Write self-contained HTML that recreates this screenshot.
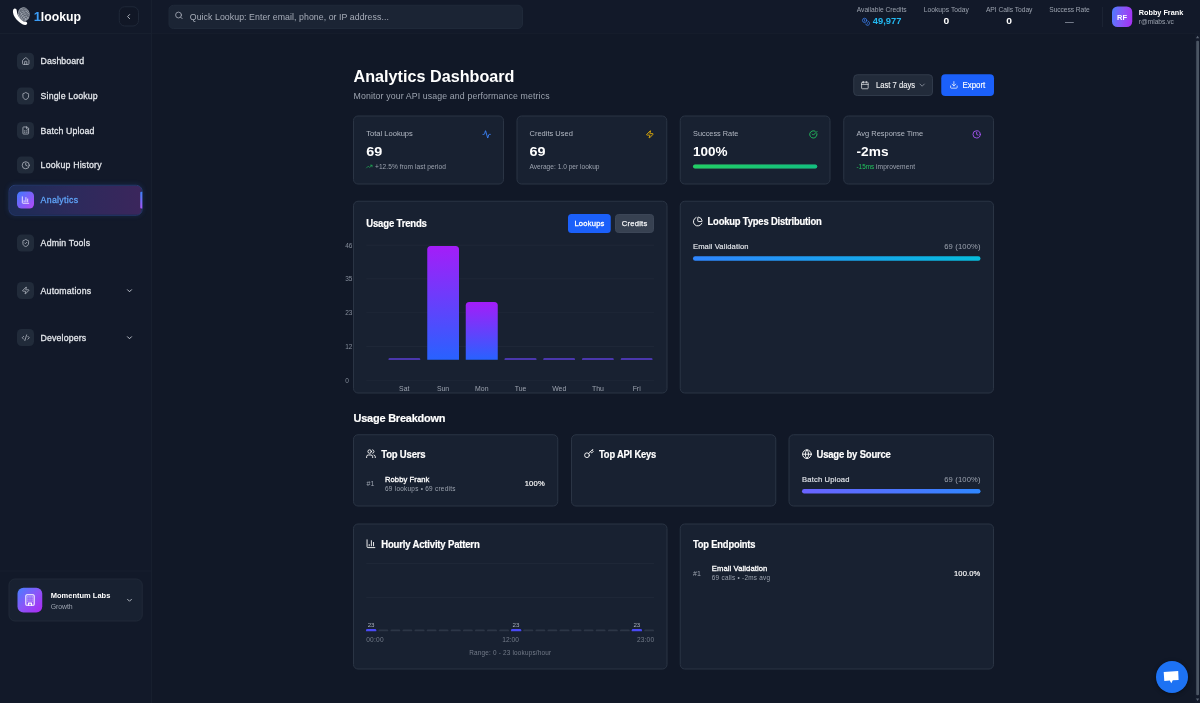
<!DOCTYPE html><html lang="en"><head><meta charset="utf-8"><title>1lookup - Analytics Dashboard</title><style>
*{box-sizing:border-box;margin:0;padding:0}
html,body{width:1200px;height:703px;overflow:hidden;background:#111827;font-family:"Liberation Sans",sans-serif;}
.abs,.t,.ic,aside,header,main,section,nav,div,a,button,h1,h2,h3,p{position:absolute}
.t{white-space:nowrap;line-height:1;transform-origin:0 50%;font-weight:400;display:block}
.ic{display:block;overflow:visible}
button{border:0;background:none;font-family:inherit}
a{text-decoration:none}
.card{background:#182131;border:4px solid #2a3444;border-radius:20px}
.ib{background:#212b3a;border-radius:18px}
</style></head><body><div id="app" style="left:0;top:0;width:4800px;height:2812px;overflow:hidden;transform:scale(.25);transform-origin:0 0">
<main class="" style="left:608px;top:136px;width:4192px;height:2676px;background:#111827;">
<h1 class="t" style="left:806px;top:139px;font-size:63.2px;color:#ffffff;font-weight:700;transform:scaleX(1.0244);">Analytics Dashboard</h1>
<p class="t" style="left:806px;top:230px;font-size:35px;color:#9ca3af;letter-spacing:0.52px;">Monitor your API usage and performance metrics</p>
<button class="" style="left:2805.2px;top:161.2px;width:318.8px;height:86.4px;border-radius:16px;border:4px solid #303a4a;background:#222b3a;">
<svg class="ic" style="left:25.2px;top:22px;width:35px;height:35px;" viewBox="0 0 24 24" fill="none" stroke="#e5e7eb" stroke-width="2" stroke-linecap="round" stroke-linejoin="round"><path d="M8 2v4"/><path d="M16 2v4"/><rect width="18" height="18" x="3" y="4" rx="2"/><path d="M3 10h18"/></svg>
<span class="t" style="left:86.4px;top:23.8px;font-size:32.8px;color:#f3f4f6;transform:scaleX(0.9323);-webkit-text-stroke:0.4px #f3f4f6;">Last 7 days</span>
<svg class="ic" style="left:254px;top:21.6px;width:35px;height:35px;" viewBox="0 0 24 24" fill="none" stroke="#9ca3af" stroke-width="2" stroke-linecap="round" stroke-linejoin="round"><path d="m6 9 6 6 6-6"/></svg>
</button>
<button class="" style="left:3157.2px;top:161.2px;width:210.8px;height:86.4px;border-radius:16px;background:#1b60fa;">
<svg class="ic" style="left:33.2px;top:25.2px;width:35px;height:35px;" viewBox="0 0 24 24" fill="none" stroke="#ffffff" stroke-width="2" stroke-linecap="round" stroke-linejoin="round"><path d="M21 15v4a2 2 0 0 1-2 2H5a2 2 0 0 1-2-2v-4"/><polyline points="7 10 12 15 17 10"/><line x1="12" x2="12" y1="15" y2="3"/></svg>
<span class="t" style="left:85.2px;top:27.8px;font-size:32.8px;color:#ffffff;transform:scaleX(0.9620);-webkit-text-stroke:0.6px #fff;">Export</span>
</button>
<section class="card" style="left:804.4px;top:326.4px;width:603.2px;height:275.2px;">
<span class="t" style="left:48.8px;top:51.6px;font-size:31.2px;color:#b3b9c4;transform:scaleX(0.9681);">Total Lookups</span>
<span class="t" style="left:48.8px;top:113.6px;font-size:52px;color:#ffffff;font-weight:700;transform:scaleX(1.1065);">69</span>
<svg class="ic" style="left:512.4px;top:54px;width:35px;height:35px;" viewBox="0 0 24 24" fill="none" stroke="#3d86ff" stroke-width="2.45" stroke-linecap="round" stroke-linejoin="round"><path d="M22 12h-2.480a2 2 0 0 0-1.930 1.460l-2.350 8.360a.25.25 0 0 1-.480 0L9.240 2.180a.25.25 0 0 0-.480 0l-2.350 8.360A2 2 0 0 1 4.490 12H2"/></svg>
<svg class="ic" style="left:47.6px;top:186.8px;width:26.4px;height:26.4px;" viewBox="0 0 24 24" fill="none" stroke="#22c55e" stroke-width="2.2" stroke-linecap="round" stroke-linejoin="round"><polyline points="22 7 13.500 15.500 8.500 10.500 2 17"/><polyline points="16 7 22 7 22 13"/></svg>
<span class="t" style="left:83.6px;top:187.6px;font-size:26.4px;color:#9ca3af;letter-spacing:0.2px;">+12.5% from last period</span>
</section>
<section class="card" style="left:1457.6px;top:326.4px;width:603.2px;height:275.2px;">
<span class="t" style="left:48.8px;top:51.6px;font-size:31.2px;color:#b3b9c4;transform:scaleX(0.9627);">Credits Used</span>
<span class="t" style="left:48.8px;top:113.6px;font-size:52px;color:#ffffff;font-weight:700;transform:scaleX(1.1065);">69</span>
<svg class="ic" style="left:512.4px;top:54px;width:35px;height:35px;" viewBox="0 0 24 24" fill="none" stroke="#eab308" stroke-width="2.45" stroke-linecap="round" stroke-linejoin="round"><path d="M4 14a1 1 0 0 1-.780-1.630l9.900-10.200a.5.5 0 0 1 .860.460l-1.920 6.020A1 1 0 0 0 13 10h7a1 1 0 0 1 .780 1.630l-9.900 10.200a.5.5 0 0 1-.860-.460l1.920-6.020A1 1 0 0 0 11 14z"/></svg>
<span class="t" style="left:48.4px;top:187.6px;font-size:26.4px;color:#9ca3af;letter-spacing:0.01px;">Average: 1.0 per lookup</span>
</section>
<section class="card" style="left:2111.2px;top:326.4px;width:603.2px;height:275.2px;">
<span class="t" style="left:48.8px;top:51.6px;font-size:31.2px;color:#b3b9c4;transform:scaleX(0.9414);">Success Rate</span>
<span class="t" style="left:48.8px;top:113.6px;font-size:52px;color:#ffffff;font-weight:700;transform:scaleX(1.0376);">100%</span>
<svg class="ic" style="left:512.4px;top:54px;width:35px;height:35px;" viewBox="0 0 24 24" fill="none" stroke="#22c55e" stroke-width="2.45" stroke-linecap="round" stroke-linejoin="round"><path d="M21.801 10A10 10 0 1 1 17 3.335"/><path d="m9 11 3 3L22 4"/></svg>
<div class="" style="left:48.8px;top:192px;width:496.8px;height:15.2px;border-radius:8px;background:#374151;"></div>
<div class="" style="left:48.8px;top:192px;width:496.8px;height:15.2px;border-radius:8px;background:linear-gradient(90deg,#21cf65,#12bf7f);"></div>
</section>
<section class="card" style="left:2764.8px;top:326.4px;width:603.2px;height:275.2px;">
<span class="t" style="left:48.8px;top:51.6px;font-size:31.2px;color:#b3b9c4;transform:scaleX(0.9561);">Avg Response Time</span>
<span class="t" style="left:48.8px;top:113.6px;font-size:52px;color:#ffffff;font-weight:700;transform:scaleX(1.0544);">-2ms</span>
<svg class="ic" style="left:512.4px;top:54px;width:35px;height:35px;" viewBox="0 0 24 24" fill="none" stroke="#a855f7" stroke-width="2.45" stroke-linecap="round" stroke-linejoin="round"><circle cx="12" cy="12" r="10"/><polyline points="12 6 12 12 16 14"/></svg>
<span class="t" style="left:48.8px;top:187.6px;font-size:26.4px;color:#22c55e;transform:scaleX(0.9598);">-15ms</span>
<span class="t" style="left:127.2px;top:187.6px;font-size:26.4px;color:#9ca3af;letter-spacing:0.34px;">improvement</span>
</section>
<section class="card" style="left:804px;top:667.2px;width:1257.6px;height:771.2px;">
<h2 class="t" style="left:48.8px;top:65.8px;font-size:41.6px;color:#ffffff;font-weight:700;letter-spacing:-0.8px;transform:scaleX(0.9196);-webkit-text-stroke:0.8px #fff;">Usage Trends</h2>
<button class="" style="left:856px;top:48.8px;width:171.2px;height:75.6px;border-radius:14px;background:#1b60fa;">
<span class="t" style="left:25.6px;top:22px;font-size:30.4px;color:#ffffff;letter-spacing:0.84px;-webkit-text-stroke:1.2px #fff;">Lookups</span>
</button>
<button class="" style="left:1044px;top:48.8px;width:156px;height:75.6px;border-radius:14px;background:#374151;border:4px solid #3c4657;">
<span class="t" style="left:23px;top:18px;font-size:30.4px;color:#f3f4f6;letter-spacing:0.95px;-webkit-text-stroke:1px #f3f4f6;">Credits</span>
</button>
<div class="" style="left:48.8px;top:172px;width:1151.2px;height:2.8px;background:#202a3a;"></div>
<span class="t" style="left:-35.2px;top:162.8px;font-size:26px;color:#858d9b;">46</span>
<div class="" style="left:48.8px;top:307.2px;width:1151.2px;height:2.8px;background:#202a3a;"></div>
<span class="t" style="left:-35.2px;top:294.8px;font-size:26px;color:#858d9b;">35</span>
<div class="" style="left:48.8px;top:442.4px;width:1151.2px;height:2.8px;background:#202a3a;"></div>
<span class="t" style="left:-35.2px;top:430.8px;font-size:26px;color:#858d9b;">23</span>
<div class="" style="left:48.8px;top:577.6px;width:1151.2px;height:2.8px;background:#202a3a;"></div>
<span class="t" style="left:-35.2px;top:566.8px;font-size:26px;color:#858d9b;">12</span>
<div class="" style="left:48.8px;top:712.4px;width:1151.2px;height:2.8px;background:#202a3a;"></div>
<span class="t" style="left:-35.2px;top:702.8px;font-size:26px;color:#858d9b;">0</span>
<div class="" style="left:137.6px;top:626px;width:127.2px;height:6px;border-radius:4px 4px 0 0;background:#5b3fd6;"></div>
<span class="t" style="left:180.48px;top:733.8px;font-size:27.6px;color:#9ca3af;">Sat</span>
<div class="" style="left:292.52px;top:176.4px;width:127.2px;height:455.2px;border-radius:14px 14px 0 0;background:linear-gradient(180deg,#a41df8 0%,#2862ff 100%);"></div>
<span class="t" style="left:331.56px;top:733.8px;font-size:27.6px;color:#9ca3af;">Sun</span>
<div class="" style="left:447.44px;top:401.2px;width:127.2px;height:230.4px;border-radius:14px 14px 0 0;background:linear-gradient(180deg,#a41df8 0%,#2862ff 100%);"></div>
<span class="t" style="left:484.2px;top:733.8px;font-size:27.6px;color:#9ca3af;">Mon</span>
<div class="" style="left:602.36px;top:626px;width:127.2px;height:6px;border-radius:4px 4px 0 0;background:#5b3fd6;"></div>
<span class="t" style="left:642.68px;top:733.8px;font-size:27.6px;color:#9ca3af;">Tue</span>
<div class="" style="left:757.28px;top:626px;width:127.2px;height:6px;border-radius:4px 4px 0 0;background:#5b3fd6;"></div>
<span class="t" style="left:792.76px;top:733.8px;font-size:27.6px;color:#9ca3af;">Wed</span>
<div class="" style="left:912.2px;top:626px;width:127.2px;height:6px;border-radius:4px 4px 0 0;background:#5b3fd6;"></div>
<span class="t" style="left:952px;top:733.8px;font-size:27.6px;color:#9ca3af;">Thu</span>
<div class="" style="left:1067.12px;top:626px;width:127.2px;height:6px;border-radius:4px 4px 0 0;background:#5b3fd6;"></div>
<span class="t" style="left:1114.64px;top:733.8px;font-size:27.6px;color:#9ca3af;">Fri</span>
</section>
<section class="card" style="left:2111.2px;top:667.2px;width:1256.8px;height:771.2px;">
<svg class="ic" style="left:47.2px;top:57.6px;width:42.4px;height:42.4px;" viewBox="0 0 24 24" fill="none" stroke="#ffffff" stroke-width="2.1" stroke-linecap="round" stroke-linejoin="round"><path d="M21 12c.552 0 1.005-.449.950-.998a10 10 0 0 0-8.953-8.951c-.550-.055-.998.398-.998.950v8a1 1 0 0 0 1 1z"/><path d="M21.210 15.890A10 10 0 1 1 8 2.830"/></svg>
<h2 class="t" style="left:107.2px;top:57.8px;font-size:41.6px;color:#ffffff;font-weight:700;letter-spacing:-0.8px;transform:scaleX(0.9060);-webkit-text-stroke:0.8px #fff;">Lookup Types Distribution</h2>
<span class="t" style="left:48.8px;top:162.8px;font-size:30.4px;color:#e2e5ea;letter-spacing:0.42px;-webkit-text-stroke:0.6px #e2e5ea;">Email Validation</span>
<span class="t" style="left:1053.6px;top:162.8px;font-size:30.4px;color:#9ca3af;letter-spacing:0.62px;">69 (100%)</span>
<div class="" style="left:48.8px;top:217.6px;width:1150.4px;height:18px;border-radius:8.8px;background:linear-gradient(90deg,#2f86ff,#06bcdc);"></div>
</section>
<h2 class="t" style="left:806px;top:1513px;font-size:46.4px;color:#ffffff;font-weight:700;letter-spacing:-0.8px;transform:scaleX(0.9410);-webkit-text-stroke:0.8px #fff;">Usage Breakdown</h2>
<section class="card" style="left:804px;top:1600.8px;width:820.8px;height:289.6px;">
<svg class="ic" style="left:47.2px;top:53.6px;width:41.6px;height:41.6px;" viewBox="0 0 24 24" fill="none" stroke="#ffffff" stroke-width="2.1" stroke-linecap="round" stroke-linejoin="round"><path d="M16 21v-2a4 4 0 0 0-4-4H6a4 4 0 0 0-4 4v2"/><circle cx="9" cy="7" r="4"/><path d="M22 21v-2a4 4 0 0 0-3-3.870"/><path d="M16 3.130a4 4 0 0 1 0 7.750"/></svg>
<h3 class="t" style="left:108.8px;top:56.2px;font-size:41.6px;color:#ffffff;font-weight:700;letter-spacing:-0.8px;transform:scaleX(0.9137);-webkit-text-stroke:0.8px #fff;">Top Users</h3>
<span class="t" style="left:50px;top:178.2px;font-size:30px;color:#9ca3af;transform:scaleX(0.9350);">#1</span>
<span class="t" style="left:124px;top:161.2px;font-size:30.4px;color:#ffffff;letter-spacing:0.32px;-webkit-text-stroke:1.2px #fff;">Robby Frank</span>
<span class="t" style="left:124px;top:202.2px;font-size:25.6px;color:#9ca3af;letter-spacing:1.09px;">69 lookups • 69 credits</span>
<span class="t" style="left:682.8px;top:177.2px;font-size:30.4px;color:#ffffff;letter-spacing:0.75px;-webkit-text-stroke:0.6px #fff;">100%</span>
</section>
<section class="card" style="left:1676px;top:1600.8px;width:820.8px;height:289.6px;">
<svg class="ic" style="left:47.2px;top:53.6px;width:41.6px;height:41.6px;" viewBox="0 0 24 24" fill="none" stroke="#ffffff" stroke-width="2.1" stroke-linecap="round" stroke-linejoin="round"><path d="m15.500 7.500 2.300 2.300a1 1 0 0 0 1.400 0l2.100-2.100a1 1 0 0 0 0-1.400L19 4"/><path d="m21 2-9.600 9.600"/><circle cx="7.500" cy="15.500" r="5.500"/></svg>
<h3 class="t" style="left:108px;top:56.2px;font-size:41.6px;color:#ffffff;font-weight:700;letter-spacing:-0.8px;transform:scaleX(0.8998);-webkit-text-stroke:0.8px #fff;">Top API Keys</h3>
</section>
<section class="card" style="left:2546px;top:1600.8px;width:822px;height:289.6px;">
<svg class="ic" style="left:49.2px;top:55.2px;width:41.6px;height:41.6px;" viewBox="0 0 24 24" fill="none" stroke="#ffffff" stroke-width="2.1" stroke-linecap="round" stroke-linejoin="round"><circle cx="12" cy="12" r="10"/><path d="M12 2a14.500 14.500 0 0 0 0 20 14.500 14.500 0 0 0 0-20"/><path d="M2 12h20"/></svg>
<h3 class="t" style="left:108.4px;top:56.2px;font-size:41.6px;color:#ffffff;font-weight:700;letter-spacing:-0.8px;transform:scaleX(0.9119);-webkit-text-stroke:0.8px #fff;">Usage by Source</h3>
<span class="t" style="left:50px;top:161.2px;font-size:30.4px;color:#e2e5ea;letter-spacing:0.68px;-webkit-text-stroke:0.6px #e2e5ea;">Batch Upload</span>
<span class="t" style="left:618.8px;top:161.2px;font-size:30.4px;color:#9ca3af;letter-spacing:0.62px;">69 (100%)</span>
<div class="" style="left:50px;top:215.2px;width:714.4px;height:18px;border-radius:8.8px;background:linear-gradient(90deg,#6a63ff,#2f87ff);"></div>
</section>
<section class="card" style="left:804px;top:1957.6px;width:1257.6px;height:584.8px;">
<svg class="ic" style="left:47.2px;top:56px;width:41.6px;height:41.6px;" viewBox="0 0 24 24" fill="none" stroke="#ffffff" stroke-width="2.1" stroke-linecap="round" stroke-linejoin="round"><path d="M3 3v16a2 2 0 0 0 2 2h16"/><path d="M18 17V9"/><path d="M13 17V5"/><path d="M8 17v-3"/></svg>
<h3 class="t" style="left:108.8px;top:59.4px;font-size:41.6px;color:#ffffff;font-weight:700;letter-spacing:-0.8px;transform:scaleX(0.9177);-webkit-text-stroke:0.8px #fff;">Hourly Activity Pattern</h3>
<div class="" style="left:48.8px;top:155.6px;width:1151.2px;height:2.8px;background:#202a3a;"></div>
<div class="" style="left:48.8px;top:291.6px;width:1151.2px;height:2.8px;background:#202a3a;"></div>
<div class="" style="left:48px;top:418.4px;width:41.2px;height:9.2px;border-radius:4.8px 4.8px 0 0;background:#4a4af5;"></div>
<span class="t" style="left:54.6px;top:390.4px;font-size:24.8px;color:#aab0bb;">23</span>
<div class="" style="left:97.52px;top:420.4px;width:39.2px;height:7.2px;border-radius:4px 4px 0 0;background:#2c3646;"></div>
<div class="" style="left:145.84px;top:420.4px;width:39.2px;height:7.2px;border-radius:4px 4px 0 0;background:#2c3646;"></div>
<div class="" style="left:194.16px;top:420.4px;width:39.2px;height:7.2px;border-radius:4px 4px 0 0;background:#2c3646;"></div>
<div class="" style="left:242.48px;top:420.4px;width:39.2px;height:7.2px;border-radius:4px 4px 0 0;background:#2c3646;"></div>
<div class="" style="left:290.8px;top:420.4px;width:39.2px;height:7.2px;border-radius:4px 4px 0 0;background:#2c3646;"></div>
<div class="" style="left:339.12px;top:420.4px;width:39.2px;height:7.2px;border-radius:4px 4px 0 0;background:#2c3646;"></div>
<div class="" style="left:387.44px;top:420.4px;width:39.2px;height:7.2px;border-radius:4px 4px 0 0;background:#2c3646;"></div>
<div class="" style="left:435.76px;top:420.4px;width:39.2px;height:7.2px;border-radius:4px 4px 0 0;background:#2c3646;"></div>
<div class="" style="left:484.08px;top:420.4px;width:39.2px;height:7.2px;border-radius:4px 4px 0 0;background:#2c3646;"></div>
<div class="" style="left:532.4px;top:420.4px;width:39.2px;height:7.2px;border-radius:4px 4px 0 0;background:#2c3646;"></div>
<div class="" style="left:580.72px;top:420.4px;width:39.2px;height:7.2px;border-radius:4px 4px 0 0;background:#2c3646;"></div>
<div class="" style="left:627.84px;top:418.4px;width:41.2px;height:9.2px;border-radius:4.8px 4.8px 0 0;background:#4a4af5;"></div>
<span class="t" style="left:634.44px;top:390.4px;font-size:24.8px;color:#aab0bb;">23</span>
<div class="" style="left:677.36px;top:420.4px;width:39.2px;height:7.2px;border-radius:4px 4px 0 0;background:#2c3646;"></div>
<div class="" style="left:725.68px;top:420.4px;width:39.2px;height:7.2px;border-radius:4px 4px 0 0;background:#2c3646;"></div>
<div class="" style="left:774px;top:420.4px;width:39.2px;height:7.2px;border-radius:4px 4px 0 0;background:#2c3646;"></div>
<div class="" style="left:822.32px;top:420.4px;width:39.2px;height:7.2px;border-radius:4px 4px 0 0;background:#2c3646;"></div>
<div class="" style="left:870.64px;top:420.4px;width:39.2px;height:7.2px;border-radius:4px 4px 0 0;background:#2c3646;"></div>
<div class="" style="left:918.96px;top:420.4px;width:39.2px;height:7.2px;border-radius:4px 4px 0 0;background:#2c3646;"></div>
<div class="" style="left:967.28px;top:420.4px;width:39.2px;height:7.2px;border-radius:4px 4px 0 0;background:#2c3646;"></div>
<div class="" style="left:1015.6px;top:420.4px;width:39.2px;height:7.2px;border-radius:4px 4px 0 0;background:#2c3646;"></div>
<div class="" style="left:1063.92px;top:420.4px;width:39.2px;height:7.2px;border-radius:4px 4px 0 0;background:#2c3646;"></div>
<div class="" style="left:1111.04px;top:418.4px;width:41.2px;height:9.2px;border-radius:4.8px 4.8px 0 0;background:#4a4af5;"></div>
<span class="t" style="left:1117.64px;top:390.4px;font-size:24.8px;color:#aab0bb;">23</span>
<div class="" style="left:1160.56px;top:420.4px;width:39.2px;height:7.2px;border-radius:4px 4px 0 0;background:#2c3646;"></div>
<span class="t" style="left:48.8px;top:448.4px;font-size:26.4px;color:#737b89;letter-spacing:0.88px;">00:00</span>
<span class="t" style="left:593.4px;top:448.4px;font-size:26.4px;color:#737b89;letter-spacing:-0.02px;">12:00</span>
<span class="t" style="left:1131.6px;top:448.4px;font-size:26.4px;color:#737b89;letter-spacing:0.68px;">23:00</span>
<span class="t" style="left:460.8px;top:501.4px;font-size:25.6px;color:#737b89;letter-spacing:0.77px;">Range: 0 - 23 lookups/hour</span>
</section>
<section class="card" style="left:2111.2px;top:1957.6px;width:1256.8px;height:584.8px;">
<h3 class="t" style="left:48.8px;top:59.4px;font-size:41.6px;color:#ffffff;font-weight:700;letter-spacing:-0.8px;transform:scaleX(0.8978);-webkit-text-stroke:0.8px #fff;">Top Endpoints</h3>
<span class="t" style="left:48.8px;top:181.4px;font-size:30px;color:#9ca3af;transform:scaleX(0.9350);">#1</span>
<span class="t" style="left:124px;top:160.4px;font-size:30.4px;color:#ffffff;letter-spacing:0.42px;-webkit-text-stroke:1.2px #fff;">Email Validation</span>
<span class="t" style="left:124px;top:201.4px;font-size:25.6px;color:#9ca3af;letter-spacing:1px;">69 calls • -2ms avg</span>
<span class="t" style="left:1092.8px;top:180.4px;font-size:30.4px;color:#ffffff;letter-spacing:0.42px;-webkit-text-stroke:0.6px #fff;">100.0%</span>
</section>
</main>
<header class="" style="left:608px;top:0px;width:4192px;height:136px;background:#121929;border-bottom:4px solid #151c2b;">
<div class="" style="left:65.6px;top:18.8px;width:1418.4px;height:97.6px;border-radius:20px;border:4px solid #1f2939;background:#1b2434;">
<svg class="ic" style="left:20.8px;top:21.2px;width:35.2px;height:35.2px;" viewBox="0 0 24 24" fill="none" stroke="#aab0bc" stroke-width="2.2" stroke-linecap="round" stroke-linejoin="round"><circle cx="11" cy="11" r="8"/><path d="m21 21-4.300-4.300"/></svg>
<span class="t" style="left:81.6px;top:27.2px;font-size:35px;color:#a7adb9;letter-spacing:0.26px;">Quick Lookup: Enter email, phone, or IP address...</span>
</div>
<span class="t" style="left:2818.8px;top:26px;font-size:26.8px;color:#9ca3af;letter-spacing:-0.04px;">Available Credits</span>
<span class="t" style="left:3086.8px;top:26px;font-size:26.8px;color:#9ca3af;letter-spacing:0.08px;">Lookups Today</span>
<span class="t" style="left:3335.8px;top:26px;font-size:26.8px;color:#9ca3af;letter-spacing:-0.19px;">API Calls Today</span>
<span class="t" style="left:3589px;top:26px;font-size:26.8px;color:#9ca3af;letter-spacing:-0.3px;">Success Rate</span>
<svg class="ic" style="left:2839.2px;top:70.4px;width:34.4px;height:34.4px;" viewBox="0 0 24 24" fill="none" stroke="#3b82f6" stroke-width="2" stroke-linecap="round" stroke-linejoin="round"><circle cx="8" cy="8" r="6"/><path d="M18.090 10.370A6 6 0 1 1 10.340 18"/><path d="M7 6h1v4"/><path d="m16.710 13.880.700.710-2.820 2.820"/></svg>
<span class="t" style="left:2883.2px;top:65px;font-size:37.2px;color:#22b8f0;font-weight:700;transform:scaleX(1.0054);">49,977</span>
<span class="t" style="left:3165.84px;top:65px;font-size:37.2px;color:#ffffff;font-weight:700;transform:scaleX(1.1000);">0</span>
<span class="t" style="left:3417.44px;top:65px;font-size:37.2px;color:#ffffff;font-weight:700;transform:scaleX(1.1000);">0</span>
<span class="t" style="left:3652.48px;top:70px;font-size:35px;color:#7b8391;font-weight:700;">—</span>
<div class="" style="left:3800px;top:28px;width:4px;height:80px;background:#1b2333;"></div>
<div class="" style="left:3840px;top:26.4px;width:81.2px;height:81.6px;border-radius:22px;background:linear-gradient(100deg,#4b7dff 0%,#8857f8 50%,#a92df2 100%);"></div>
<span class="t" style="left:3860.4px;top:55px;font-size:30px;color:#ffffff;font-weight:700;">RF</span>
<span class="t" style="left:3947.2px;top:33px;font-size:32.4px;color:#ffffff;font-weight:700;transform:scaleX(0.8989);">Robby Frank</span>
<span class="t" style="left:3947.2px;top:74px;font-size:26.4px;color:#9ca3af;letter-spacing:0.03px;">r@mlabs.vc</span>
</header>
<aside class="" style="left:0px;top:0px;width:608px;height:2812px;background:#121929;border-right:4px solid #171f2e;">
<div class="" style="left:0px;top:132px;width:604px;height:4px;background:#171f2e;"></div>
<svg class="ic" style="left:32px;top:8px;width:120px;height:112px" viewBox="0 0 30 28" fill="none">
<ellipse cx="15.800" cy="12.200" rx="5.900" ry="6.900" transform="rotate(-14 15.800 12.200)" fill="#9aa0ab"/>
<g stroke="#262d3c" stroke-width=".55" fill="none" opacity=".9"><path d="M11.200 9.500c2-3.500 7-4 9.300-.800"/><path d="M10.600 12c1.500-4.500 8-5.500 10.400-1"/><path d="M10.800 14.500c.800-5 7.500-6.500 10-1.500"/><path d="M12 17c0-5 6-7.500 8.800-2.500"/><path d="M13.800 18.600c-.5-4.500 4-7 6.500-3.400"/><path d="M15.800 19c-.3-3 1.800-4.600 3.600-3"/><path d="M12 7.500l8 11M15 6.500l6 9M10.800 10.500l6.500 8.500" opacity=".6"/></g>
<path d="M6.600 6.600C5.200 6.800 4.800 8.500 5 10.400 5.400 13.500 7.500 17 11.200 19.900c2.300 1.800 4.300 2.900 5.900 3 1.500.1 2.500-.9 2-2.100-.3-1-1.600-1.400-3.200-1.300-1.400-.2-3.400-2-5.100-4.400C9.600 13.200 9 11 8.800 8.800 8.700 7.400 7.800 6.500 6.600 6.600Z" fill="#fff"/>
</svg>
<span class="t" style="left:134.8px;top:38px;font-size:54px;color:#3b9cf6;font-weight:700;transform:scaleX(0.9700);">1</span>
<span class="t" style="left:162.72px;top:38px;font-size:54px;color:#ffffff;font-weight:700;transform:scaleX(0.9108);">lookup</span>
<button class="" style="left:474.8px;top:24.8px;width:80.8px;height:80.8px;border:4px solid #1f2838;border-radius:24px;background:#111726;"></button>
<svg class="ic" style="left:498.4px;top:49.6px;width:32.8px;height:32.8px;" viewBox="0 0 24 24" fill="none" stroke="#aab0bb" stroke-width="2.9" stroke-linecap="round" stroke-linejoin="round"><path d="m15 18-6-6 6-6"/></svg>
<div class="ib" style="left:68.4px;top:211.2px;width:68px;height:68px;"></div>
<svg class="ic" style="left:85.6px;top:228.4px;width:34px;height:34px;" viewBox="0 0 24 24" fill="none" stroke="#b4bac4" stroke-width="2.2" stroke-linecap="round" stroke-linejoin="round"><path d="M15 21v-8a1 1 0 0 0-1-1h-4a1 1 0 0 0-1 1v8"/><path d="M3 10a2 2 0 0 1 .709-1.528l7-5.999a2 2 0 0 1 2.582 0l7 5.999A2 2 0 0 1 21 10v9a2 2 0 0 1-2 2H5a2 2 0 0 1-2-2z"/></svg>
<a class="t" style="left:162.4px;top:226px;font-size:35px;color:#e2e5ea;letter-spacing:0.35px;-webkit-text-stroke:1.12px #e2e5ea;">Dashboard</a>
<div class="ib" style="left:68.4px;top:349.6px;width:68px;height:68px;"></div>
<svg class="ic" style="left:85.6px;top:366.8px;width:34px;height:34px;" viewBox="0 0 24 24" fill="none" stroke="#b4bac4" stroke-width="2.2" stroke-linecap="round" stroke-linejoin="round"><path d="M20 13c0 5-3.500 7.500-7.660 8.950a1 1 0 0 1-.670-.010C7.500 20.500 4 18 4 13V6a1 1 0 0 1 1-1c2 0 4.500-1.200 6.240-2.720a1.170 1.170 0 0 1 1.520 0C14.510 3.810 17 5 19 5a1 1 0 0 1 1 1z"/></svg>
<a class="t" style="left:162.4px;top:366px;font-size:35px;color:#e2e5ea;letter-spacing:0.51px;-webkit-text-stroke:1.12px #e2e5ea;">Single Lookup</a>
<div class="ib" style="left:68.4px;top:488px;width:68px;height:68px;"></div>
<svg class="ic" style="left:85.6px;top:505.2px;width:34px;height:34px;" viewBox="0 0 24 24" fill="none" stroke="#b4bac4" stroke-width="2.2" stroke-linecap="round" stroke-linejoin="round"><path d="M15 2H6a2 2 0 0 0-2 2v16a2 2 0 0 0 2 2h12a2 2 0 0 0 2-2V7Z"/><path d="M14 2v4a2 2 0 0 0 2 2h4"/><path d="M8 13h2"/><path d="M14 13h2"/><path d="M8 17h2"/><path d="M14 17h2"/></svg>
<a class="t" style="left:162.4px;top:506px;font-size:35px;color:#e2e5ea;letter-spacing:0.46px;-webkit-text-stroke:1.12px #e2e5ea;">Batch Upload</a>
<div class="ib" style="left:68.4px;top:626.4px;width:68px;height:68px;"></div>
<svg class="ic" style="left:85.6px;top:643.6px;width:34px;height:34px;" viewBox="0 0 24 24" fill="none" stroke="#b4bac4" stroke-width="2.2" stroke-linecap="round" stroke-linejoin="round"><circle cx="12" cy="12" r="10"/><polyline points="12 6 12 12 16 14"/></svg>
<a class="t" style="left:162.4px;top:642px;font-size:35px;color:#e2e5ea;letter-spacing:0.81px;-webkit-text-stroke:1.12px #e2e5ea;">Lookup History</a>
<div class="" style="left:34px;top:739.2px;width:537.2px;height:123.6px;border-radius:26px;border:4px solid #263a70;background:linear-gradient(90deg,#1c2c55 0%,#2d2a5c 50%,#3b265c 100%);box-shadow:0 0 20px rgba(59,130,246,.14);">
<div class="" style="left:30.4px;top:23.2px;width:68px;height:68px;border-radius:18px;background:linear-gradient(135deg,#3f7bff,#b548f7);"></div>
<svg class="ic" style="left:47.2px;top:39.6px;width:34.4px;height:34.4px;" viewBox="0 0 24 24" fill="none" stroke="#ffffff" stroke-width="2.2" stroke-linecap="round" stroke-linejoin="round"><path d="M3 3v16a2 2 0 0 0 2 2h16"/><path d="M18 17V9"/><path d="M13 17V5"/><path d="M8 17v-3"/></svg>
<a class="t" style="left:124.4px;top:38.8px;font-size:35px;color:#60a5fa;letter-spacing:1.24px;-webkit-text-stroke:1.12px #60a5fa;">Analytics</a>
<div class="" style="left:523.2px;top:24px;width:8px;height:66.4px;border-radius:4px 0 0 4px;background:linear-gradient(180deg,#3b82f6,#a855f7);"></div>
</div>
<div class="ib" style="left:68.4px;top:938px;width:68px;height:68px;"></div>
<svg class="ic" style="left:85.6px;top:955.2px;width:34px;height:34px;" viewBox="0 0 24 24" fill="none" stroke="#b4bac4" stroke-width="2.2" stroke-linecap="round" stroke-linejoin="round"><path d="M20 13c0 5-3.500 7.500-7.660 8.950a1 1 0 0 1-.670-.010C7.500 20.500 4 18 4 13V6a1 1 0 0 1 1-1c2 0 4.500-1.200 6.240-2.720a1.170 1.170 0 0 1 1.520 0C14.510 3.810 17 5 19 5a1 1 0 0 1 1 1z"/><path d="m9 12 2 2 4-4"/></svg>
<a class="t" style="left:162.4px;top:954px;font-size:35px;color:#e2e5ea;letter-spacing:0.8px;-webkit-text-stroke:1.12px #e2e5ea;">Admin Tools</a>
<div class="ib" style="left:68.4px;top:1127.6px;width:68px;height:68px;"></div>
<svg class="ic" style="left:85.6px;top:1144.8px;width:34px;height:34px;" viewBox="0 0 24 24" fill="none" stroke="#b4bac4" stroke-width="2.2" stroke-linecap="round" stroke-linejoin="round"><path d="M4 14a1 1 0 0 1-.780-1.630l9.900-10.200a.5.5 0 0 1 .860.460l-1.920 6.020A1 1 0 0 0 13 10h7a1 1 0 0 1 .780 1.630l-9.900 10.200a.5.5 0 0 1-.860-.460l1.920-6.020A1 1 0 0 0 11 14z"/></svg>
<a class="t" style="left:162.4px;top:1146px;font-size:35px;color:#e2e5ea;letter-spacing:0.74px;-webkit-text-stroke:1.12px #e2e5ea;">Automations</a>
<svg class="ic" style="left:502px;top:1146.6px;width:32px;height:32px;" viewBox="0 0 24 24" fill="none" stroke="#c5cad3" stroke-width="2.9" stroke-linecap="round" stroke-linejoin="round"><path d="m6 9 6 6 6-6"/></svg>
<div class="ib" style="left:68.4px;top:1316.4px;width:68px;height:68px;"></div>
<svg class="ic" style="left:85.6px;top:1333.6px;width:34px;height:34px;" viewBox="0 0 24 24" fill="none" stroke="#b4bac4" stroke-width="2.2" stroke-linecap="round" stroke-linejoin="round"><path d="m18 16 4-4-4-4"/><path d="m6 8-4 4 4 4"/><path d="m14.500 4-5 16"/></svg>
<a class="t" style="left:162.4px;top:1334px;font-size:35px;color:#e2e5ea;letter-spacing:0.55px;-webkit-text-stroke:1.12px #e2e5ea;">Developers</a>
<svg class="ic" style="left:502px;top:1335.4px;width:32px;height:32px;" viewBox="0 0 24 24" fill="none" stroke="#c5cad3" stroke-width="2.9" stroke-linecap="round" stroke-linejoin="round"><path d="m6 9 6 6 6-6"/></svg>
<div class="" style="left:0px;top:2282px;width:604px;height:4px;background:#171f2e;"></div>
<div class="" style="left:34px;top:2313.6px;width:537.2px;height:172.8px;border-radius:26px;border:4px solid #202938;background:#182131;">
<div class="" style="left:32.4px;top:33.2px;width:98.8px;height:98.8px;border-radius:24px;background:linear-gradient(135deg,#4580ff 0%,#8b55f8 50%,#ac27f2 100%);"></div>
<svg class="ic" style="left:56.8px;top:57.6px;width:50px;height:50px;" viewBox="0 0 24 24" fill="none" stroke="#ffffff" stroke-width="2" stroke-linecap="round" stroke-linejoin="round"><rect width="16" height="20" x="4" y="2" rx="2" ry="2"/><path d="M9 22v-4h6v4"/><path d="M8 6h.010"/><path d="M16 6h.010"/><path d="M12 6h.010"/><path d="M12 10h.010"/><path d="M12 14h.010"/><path d="M16 10h.010"/><path d="M16 14h.010"/><path d="M8 10h.010"/><path d="M8 14h.010"/></svg>
<span class="t" style="left:165.2px;top:47.4px;font-size:32.4px;color:#ffffff;font-weight:700;transform:scaleX(0.9261);">Momentum Labs</span>
<span class="t" style="left:165.2px;top:95.4px;font-size:27.6px;color:#9ca3af;letter-spacing:-0.35px;">Growth</span>
<svg class="ic" style="left:463.6px;top:67.6px;width:32px;height:32px;" viewBox="0 0 24 24" fill="none" stroke="#b4bac4" stroke-width="2.8" stroke-linecap="round" stroke-linejoin="round"><path d="m6 9 6 6 6-6"/></svg>
</div>
</aside>
<button class="abs" style="left:4624px;top:2644px;width:128px;height:128px;border-radius:50%;background:#1d72f3;box-shadow:0 4px 16px rgba(0,0,0,.4)"><svg class="ic" style="left:28px;top:34.8px;width:64px;height:60px" viewBox="0 0 16 15"><path d="M0.700 2.300L15.200 1.200 15.600 10.200 9.800 10.600 8.300 13.500 6.800 10.800 1.300 11.200Z" fill="#fff"/></svg></button>
<div class="" style="left:4780px;top:136px;width:20px;height:2676px;background:#131a2a;"></div>
<div class="" style="left:4784.8px;top:163.2px;width:11.2px;height:2618px;background:#4b5563;border-radius:4px;"></div>
<svg class="ic" style="left:4784.4px;top:143.2px;width:12.8px;height:10.4px" viewBox="0 0 4 3"><path d="M0 3L2 0L4 3Z" fill="#5d6675"/></svg>
<svg class="ic" style="left:4784.4px;top:2794.4px;width:12.8px;height:10.4px" viewBox="0 0 4 3"><path d="M0 0L2 3L4 0Z" fill="#5d6675"/></svg>
</div></body></html>
